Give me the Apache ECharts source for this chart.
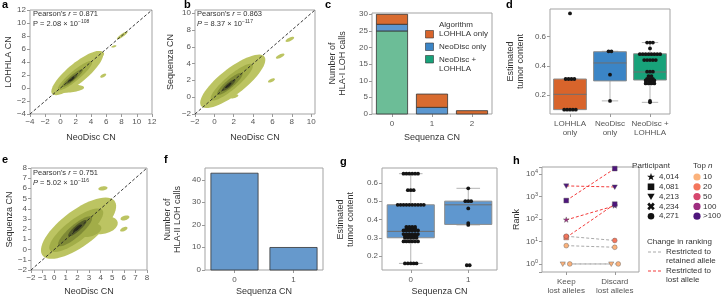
<!DOCTYPE html>
<html>
<head>
<meta charset="utf-8">
<script src="https://cdn.jsdelivr.net/npm/echarts@6/dist/echarts.min.js"></script>
<style>
  html, body { margin: 0; padding: 0; background: #fff; }
  #wrap { position: relative; width: 721px; height: 298px; }
  #chart { width: 721px; height: 298px; }
  .ytick {
    position: absolute; font: 8px 'Liberation Sans', Arial, sans-serif; color: #555;
    line-height: 10px; height: 10px; white-space: nowrap; text-align: right;
  }
</style>
</head>
<body>
<div id="wrap"><div id="chart"></div></div>
<script>
// ---------- data ----------
// density blobs: [centerX, centerY, semiAxisA, semiAxisB, angleDeg, level]
const aRange = [-4, 12]
const aTicks = [-4, -2, 0, 2, 4, 6, 8, 10, 12]
const aBlobs = [
  [2.2, 2.3, 4.6, 1.4, 45, 0], [1.0, -0.1, 2.1, 0.6, 5, 0], [4.6, 4.9, 1.2, 0.6, 25, 0],
  [8.1, 8.1, 0.9, 0.22, 40, 0], [7.0, 6.4, 0.35, 0.15, 20, 0], [5.6, 1.9, 0.45, 0.22, 35, 0],
  [1.9, 1.9, 3.1, 0.7, 45, 1], [1.6, 1.55, 1.9, 0.4, 45, 2],
  [1.5, 1.4, 1.0, 0.24, 45, 3], [1.5, 1.35, 0.45, 0.12, 45, 4],
]
const bRange = [-2, 10.4]
const bTicks = [-2, 0, 2, 4, 6, 8, 10]
const bBlobs = [
  [1.9, 1.9, 4.4, 1.45, 43, 0], [2.05, 0.1, 0.45, 0.2, 20, 0],
  [5.9, 2.0, 0.4, 0.18, 30, 0], [6.8, 4.9, 0.5, 0.2, 30, 0], [7.8, 6.9, 0.5, 0.2, 30, 0],
  [1.8, 1.8, 3.0, 0.75, 45, 1], [1.6, 1.6, 1.8, 0.45, 45, 2],
  [1.5, 1.45, 0.95, 0.25, 45, 3], [1.45, 1.4, 0.42, 0.12, 45, 4],
]
const eRange = [-2, 8]
const eTicks = [-2, -1, 0, 1, 2, 3, 4, 5, 6, 7, 8]
const eBlobs = [
  [2.1, 2.1, 4.1, 1.65, 42, 0], [4.2, 2.4, 1.3, 0.85, 15, 0],
  [4.2, 6.0, 0.4, 0.2, 10, 0], [6.1, 3.1, 0.4, 0.22, 20, 0], [6.0, 2.0, 0.35, 0.18, 30, 0],
  [1.9, 1.9, 3.0, 1.0, 42, 1], [3.1, 1.9, 1.0, 0.6, 20, 1],
  [1.8, 1.8, 2.0, 0.55, 45, 2], [2.0, 2.1, 1.1, 0.28, 45, 3], [2.0, 2.1, 0.5, 0.14, 45, 4],
]

const cCategories = ['0', '1', '2']
const cRange = [0, 30.4]
const cTicks = [0, 5, 10, 15, 20, 25, 30]
const cBoth = [25, 0, 0]
const cNeoDiscOnly = [2, 2, 0]
const cLohhlaOnly = [3, 4, 1]

const dCategories = ['LOHHLA\nonly', 'NeoDisc\nonly', 'NeoDisc +\nLOHHLA']
const dTicks = [0.2, 0.4, 0.6]
// [min, q1, median, q3, max]
const dBoxStats = [
  [0.10, 0.10, 0.205, 0.31, 0.31],
  [0.16, 0.297, 0.42, 0.497, 0.50],
  [0.15, 0.303, 0.358, 0.483, 0.56],
]
const dPoints = [
  [0.76, 0.31, 0.31, 0.31, 0.31, 0.10, 0.10, 0.10, 0.10, 0.10],
  [0.50, 0.50, 0.34, 0.16],
  [0.56, 0.56, 0.56, 0.52, 0.48, 0.48, 0.48, 0.48, 0.48, 0.48, 0.48, 0.48,
   0.44, 0.44, 0.44, 0.44, 0.44, 0.36, 0.36, 0.36, 0.33, 0.33, 0.31, 0.31, 0.31,
   0.30, 0.30, 0.30, 0.30, 0.28, 0.28, 0.28, 0.28, 0.16, 0.15],
]

const fCategories = ['0', '1']
const fRange = [0, 45.3]
const fTicks = [0, 10, 20, 30, 40]
const fCalls = [43, 10]

const gCategories = ['0', '1']
const gTicks = [0.2, 0.3, 0.4, 0.5, 0.6]
const gBoxStats = [
  [0.16, 0.30, 0.335, 0.48, 0.65],
  [0.37, 0.373, 0.48, 0.50, 0.57],
]
const gPoints = [
  [0.65, 0.65, 0.65, 0.65, 0.65, 0.65, 0.56, 0.56, 0.56,
   0.48, 0.48, 0.48, 0.48, 0.48, 0.48, 0.48, 0.48, 0.48, 0.48,
   0.36, 0.36, 0.36, 0.36, 0.35, 0.35, 0.35, 0.35,
   0.34, 0.34, 0.34, 0.34, 0.34, 0.34, 0.32, 0.32, 0.32, 0.32, 0.32, 0.32,
   0.31, 0.31, 0.31, 0.31, 0.31, 0.30, 0.30, 0.30, 0.30, 0.30,
   0.28, 0.28, 0.28, 0.28, 0.28, 0.28, 0.16, 0.16, 0.16, 0.16, 0.16],
  [0.57, 0.50, 0.50, 0.50, 0.46, 0.38, 0.37, 0.15, 0.15],
]

const hCategories = ['Keep\nlost alleles', 'Discard\nlost alleles']
const hParticipants = ['4,014', '4,081', '4,213', '4,234', '4,271']
const hTopN = ['10', '20', '50', '100', '>100']
const hTopNLimits = [10, 20, 50, 100, Infinity]
const hRecordParticipant = ['4,213', '4,081', '4,014', '4,081', '4,271', '4,271', '4,213', '4,271']
const hKeep = [2900, 650, 90, 15, 17, 6.5, 1, 1]
const hDiscard = [2600, 17000, 380, 450, 11, 5.5, 1, 1]
const hChange = ['lost', 'lost', 'lost', 'lost', 'retained', 'retained', 'retained', 'retained']

// ---------- styles ----------
const FONT = "'Liberation Sans', Arial, sans-serif"
const densityColors = ['#bcc462', '#a2ad48', '#7f8a36', '#535b28', '#2c2e1b']
const cColors = ['#6cbd97', '#5b97d0', '#d86b2f']
const dColors = ['#d8642b', '#3b85c6', '#18a27a']
const gColors = ['#5f97cf', '#5f97cf']
const topNColors = ['#fbb27c', '#f4765c', '#d6476e', '#9e2d80', '#4e167c']
const markerKinds = ['star', 'square', 'tri', 'cross', 'circle']

const chart = echarts.init(document.getElementById('chart'))

const grids = [
  { left: 30, top: 10, width: 122, height: 104 },
  { left: 195, top: 10, width: 120, height: 104 },
  { left: 372, top: 13, width: 120, height: 101 },
  { left: 550, top: 9, width: 120, height: 105 },
  { left: 31, top: 168, width: 116, height: 103 },
  { left: 205, top: 168, width: 118, height: 103 },
  { left: 382, top: 168, width: 115, height: 103 },
  { left: 542, top: 167, width: 97, height: 105 },
].map((g) => Object.assign({ show: true, borderColor: '#a3a3a3', borderWidth: 1 }, g))

const noLine = { show: false, onZero: false }
const tick = { show: true, length: 3, lineStyle: { color: '#999', width: 1 } }
const label = { color: '#555', fontSize: 8, fontFamily: FONT }
const nameText = { color: '#333', fontSize: 9, fontFamily: FONT, lineHeight: 10 }
const minus = (v) => String(v).replace('-', '\u2212')

function valueAxis(gi, range, ticks, name, gap) {
  return {
    type: 'value', gridIndex: gi, min: range[0], max: range[1],
    axisLine: noLine, splitLine: { show: false },
    axisTick: Object.assign({ customValues: ticks }, tick),
    axisLabel: Object.assign({ customValues: ticks, margin: 4, formatter: minus }, label),
    name, nameLocation: 'middle', nameGap: gap, nameTextStyle: nameText,
  }
}
// y value axis whose numbers are placed next to it after layout (see placeYLabels)
function yTickAxis(gi, range, ticks) {
  return {
    type: 'value', gridIndex: gi, min: range[0], max: range[1],
    axisLine: noLine, splitLine: { show: false },
    axisTick: Object.assign({ customValues: ticks }, tick),
    axisLabel: { show: false },
  }
}
function catAxis(gi, cats, name, gap) {
  return {
    type: 'category', gridIndex: gi, data: cats, boundaryGap: true,
    axisLine: noLine, splitLine: { show: false },
    axisTick: Object.assign({ alignWithLabel: true }, tick),
    axisLabel: Object.assign({ margin: 5, lineHeight: 9, interval: 0 }, label),
    name, nameLocation: 'middle', nameGap: gap, nameTextStyle: nameText,
  }
}

const xAxis = [
  valueAxis(0, aRange, aTicks, 'NeoDisc CN', 19),
  valueAxis(1, bRange, bTicks, 'NeoDisc CN', 19),
  catAxis(2, cCategories, 'Sequenza CN', 19),
  catAxis(3, dCategories, '', 0),
  valueAxis(4, eRange, eTicks, 'NeoDisc CN', 17),
  catAxis(5, fCategories, 'Sequenza CN', 17),
  catAxis(6, gCategories, 'Sequenza CN', 17),
  catAxis(7, hCategories, '', 0),
]
const yAxis = [
  yTickAxis(0, aRange, aTicks),
  yTickAxis(1, bRange, bTicks),
  yTickAxis(2, cRange, cTicks),
  valueAxis(3, [0.07, 0.79], dTicks),
  yTickAxis(4, eRange, eTicks),
  yTickAxis(5, fRange, fTicks),
  valueAxis(6, [0.124, 0.681], gTicks),
  {
    type: 'log', logBase: 10, gridIndex: 7, min: 0.44, max: 20000,
    axisLine: noLine, splitLine: { show: false }, minorTick: { show: false },
    axisTick: tick,
    axisLabel: Object.assign({
      margin: 4,
      formatter: (v) => {
        const e = Math.log10(v)
        if (Math.abs(e - Math.round(e)) > 1e-6) return ''
        return '10{s|' + Math.round(e) + '}'
      },
      rich: { s: { fontSize: 5.5, color: '#555', fontFamily: FONT, verticalAlign: 'top', padding: [0, 0, 4, 0] } },
    }, label),
  },
]

// ---------- renderers ----------
function ellipseItem(params, api) {
  const cx = api.value(0), cy = api.value(1), a = api.value(2), b = api.value(3)
  const ang = (api.value(4) * Math.PI) / 180
  const pts = []
  for (let k = 0; k < 60; k++) {
    const t = (k / 60) * Math.PI * 2
    const u = a * Math.cos(t), v = b * Math.sin(t)
    pts.push(api.coord([cx + u * Math.cos(ang) - v * Math.sin(ang), cy + u * Math.sin(ang) + v * Math.cos(ang)]))
  }
  return { type: 'polygon', shape: { points: pts }, style: { fill: densityColors[api.value(5)] } }
}

function diagonalItem(params, api) {
  const p0 = api.coord([api.value(0), api.value(0)]), p1 = api.coord([api.value(1), api.value(1)])
  return {
    type: 'line', shape: { x1: p0[0], y1: p0[1], x2: p1[0], y2: p1[1] },
    style: { stroke: '#222', lineWidth: 0.9, lineDash: [3, 2] },
  }
}

function barItem(colors) {
  return function (params, api) {
    const i = api.value(0), lo = api.value(1), hi = api.value(2)
    if (hi <= lo) return null
    const p0 = api.coord([i, lo]), p1 = api.coord([i, hi])
    const w = api.size([1, 0])[0] * api.value(4)
    return {
      type: 'rect', shape: { x: p0[0] - w / 2, y: p1[1], width: w, height: p0[1] - p1[1] },
      style: { fill: colors[api.value(3)], stroke: '#333', lineWidth: 0.8 },
    }
  }
}
// stacked segments [category, bottom, top, layer, widthShare]
function stackRows(layers, share) {
  const rows = []
  const base = layers[0].map(() => 0)
  layers.forEach((vals, li) => {
    vals.forEach((v, ci) => {
      rows.push([ci, base[ci], base[ci] + v, li, share])
      base[ci] += v
    })
  })
  return rows
}

function boxItem(colors) {
  return function (params, api) {
    const i = api.value(0)
    const lo = api.coord([i, api.value(1)]), q1 = api.coord([i, api.value(2)])
    const md = api.coord([i, api.value(3)]), q3 = api.coord([i, api.value(4)])
    const hi = api.coord([i, api.value(5)])
    const w = api.size([1, 0])[0] * 0.82
    const x = lo[0]
    const wh = { stroke: '#b5b5b5', lineWidth: 1 }
    return {
      type: 'group',
      children: [
        { type: 'line', shape: { x1: x, y1: q3[1], x2: x, y2: hi[1] }, style: wh },
        { type: 'line', shape: { x1: x, y1: q1[1], x2: x, y2: lo[1] }, style: wh },
        { type: 'line', shape: { x1: x - w / 4, y1: hi[1], x2: x + w / 4, y2: hi[1] }, style: wh },
        { type: 'line', shape: { x1: x - w / 4, y1: lo[1], x2: x + w / 4, y2: lo[1] }, style: wh },
        { type: 'rect', shape: { x: x - w / 2, y: q3[1], width: w, height: q1[1] - q3[1] },
          style: { fill: colors[i], stroke: '#8c8c8c', lineWidth: 1 } },
        { type: 'line', shape: { x1: x - w / 2, y1: md[1], x2: x + w / 2, y2: md[1] },
          style: { stroke: '#6f6f6f', lineWidth: 1 } },
      ],
    }
  }
}

function swarmRows(lists) {
  const rows = []
  lists.forEach((vals, ci) => {
    const counts = {}, seen = {}
    vals.forEach((v) => (counts[v] = (counts[v] || 0) + 1))
    vals.forEach((v) => {
      const k = seen[v] || 0
      seen[v] = k + 1
      rows.push([ci, v, k - (counts[v] - 1) / 2])
    })
  })
  return rows
}
function dotItem(params, api) {
  const p = api.coord([api.value(0), api.value(1)])
  return { type: 'circle', shape: { cx: p[0] + api.value(2) * 2.9, cy: p[1], r: 1.9 }, style: { fill: '#151515' } }
}

function markerShape(kind, cx, cy, s, style) {
  if (kind === 'circle') return { type: 'circle', shape: { cx, cy, r: s }, style }
  let pts = []
  if (kind === 'square') pts = [[-s, -s], [s, -s], [s, s], [-s, s]]
  else if (kind === 'tri') pts = [[-s * 1.1, -s * 0.85], [s * 1.1, -s * 0.85], [0, s * 1.05]]
  else if (kind === 'star') {
    for (let k = 0; k < 10; k++) {
      const r = k % 2 === 0 ? s * 1.25 : s * 0.5
      const t = -Math.PI / 2 + (k * Math.PI) / 5
      pts.push([r * Math.cos(t), r * Math.sin(t)])
    }
  } else if (kind === 'cross') {
    const L = s * 1.2, w = s * 0.42
    const plus = [[w, -L], [w, -w], [L, -w], [L, w], [w, w], [w, L], [-w, L], [-w, w], [-L, w], [-L, -w], [-w, -w], [-w, -L]]
    const c = Math.SQRT1_2
    pts = plus.map(([x, y]) => [(x - y) * c, (x + y) * c])
  }
  return { type: 'polygon', shape: { points: pts.map(([x, y]) => [cx + x, cy + y]) }, style }
}

function rankColor(r) {
  for (let k = 0; k < hTopNLimits.length; k++) if (r <= hTopNLimits[k]) return topNColors[k]
  return topNColors[topNColors.length - 1]
}
function dodge(vals) {
  const counts = {}, seen = {}
  vals.forEach((v) => (counts[v] = (counts[v] || 0) + 1))
  return vals.map((v) => {
    const k = seen[v] || 0
    seen[v] = k + 1
    return (k - (counts[v] - 1) / 2) * 7
  })
}
const keepDodge = dodge(hKeep)
const discardDodge = dodge(hDiscard)

// ---------- series ----------
const series = []
;[[0, aBlobs, aRange], [1, bBlobs, bRange], [4, eBlobs, eRange]].forEach(([gi, blobs, r]) => {
  series.push({
    type: 'custom', xAxisIndex: gi, yAxisIndex: gi, clip: true, silent: true, z: 1,
    renderItem: ellipseItem, data: blobs.slice().sort((p, q) => p[5] - q[5]),
  })
  series.push({
    type: 'custom', xAxisIndex: gi, yAxisIndex: gi, clip: true, silent: true, z: 3,
    renderItem: diagonalItem, data: [[r[0], r[1]]],
  })
})

series.push({
  type: 'custom', xAxisIndex: 2, yAxisIndex: 2, z: 2, renderItem: barItem(cColors),
  data: stackRows([cBoth, cNeoDiscOnly, cLohhlaOnly], 0.78),
})
series.push({
  type: 'custom', xAxisIndex: 5, yAxisIndex: 5, z: 2, renderItem: barItem(['#6699cc']),
  data: stackRows([fCalls], 0.8),
})

series.push({
  type: 'custom', xAxisIndex: 3, yAxisIndex: 3, renderItem: boxItem(dColors), z: 2,
  data: dBoxStats.map((s, i) => [i].concat(s)),
})
series.push({ type: 'custom', xAxisIndex: 3, yAxisIndex: 3, renderItem: dotItem, z: 4, data: swarmRows(dPoints) })

series.push({
  type: 'custom', xAxisIndex: 6, yAxisIndex: 6, renderItem: boxItem(gColors), z: 2,
  data: gBoxStats.map((s, i) => [i].concat(s)),
})
series.push({ type: 'custom', xAxisIndex: 6, yAxisIndex: 6, renderItem: dotItem, z: 4, data: swarmRows(gPoints) })

series.push({
  type: 'custom', xAxisIndex: 7, yAxisIndex: 7, z: 2,
  data: hKeep.map((v, i) => [0, v, i]),
  renderItem(params, api) {
    const i = api.value(2)
    const p0 = api.coord([0, hKeep[i]]), p1 = api.coord([1, hDiscard[i]])
    return {
      type: 'line',
      shape: { x1: p0[0] + keepDodge[i], y1: p0[1], x2: p1[0] + discardDodge[i], y2: p1[1] },
      style: { stroke: hChange[i] === 'lost' ? '#f23b3b' : '#a8a8a8', lineWidth: 1, lineDash: [3, 2] },
    }
  },
})
series.push({
  type: 'custom', xAxisIndex: 7, yAxisIndex: 7, z: 4,
  data: hKeep.map((v, i) => [0, v, i]).concat(hDiscard.map((v, i) => [1, v, i])),
  renderItem(params, api) {
    const side = api.value(0), r = api.value(1), i = api.value(2)
    const p = api.coord([side, r])
    const dx = side === 0 ? keepDodge[i] : discardDodge[i]
    const kind = markerKinds[hParticipants.indexOf(hRecordParticipant[i])]
    return markerShape(kind, p[0] + dx, p[1], 2.4, { fill: rankColor(r), stroke: '#555', lineWidth: 0.4 })
  },
})

// ---------- annotations ----------
const txt = (x, y, text, o) => ({
  type: 'text', x, y,
  style: Object.assign({ text, fontSize: 8, fontFamily: FONT, fill: '#333', textVerticalAlign: 'middle' }, o || {}),
})
const yTitle = (x, y, text) => ({
  type: 'text', x, y, rotation: Math.PI / 2,
  style: { text, fontSize: 9, lineHeight: 10, fontFamily: FONT, fill: '#333', textAlign: 'center', textVerticalAlign: 'middle' },
})
const letter = (x, y, t) => txt(x, y, t, { fontSize: 11, fontWeight: 'bold', fill: '#000' })
const pearsonRich = {
  i: { fontSize: 7.5, fontStyle: 'italic', fontFamily: FONT, fill: '#333' },
  s: { fontSize: 5, fontFamily: FONT, fill: '#333', verticalAlign: 'top', padding: [0, 0, 3, 0] },
}
const pearson = (x, y, r, pText, exp, italicP) =>
  txt(x, y, "Pearson's {i|r} = " + r + '\n' + (italicP ? '{i|P}' : 'P') + ' = ' + pText + ' \u00d7 10{s|\u2212' + exp + '}',
    { fontSize: 7.5, lineHeight: 10, rich: pearsonRich, textVerticalAlign: 'top' })

const graphic = [
  letter(2, 5, 'a'), letter(184, 5, 'b'), letter(325, 5, 'c'), letter(506, 5, 'd'),
  letter(2, 160, 'e'), letter(164, 160, 'f'), letter(340, 162, 'g'), letter(513, 161, 'h'),
  yTitle(9, 62, 'LOHHLA CN'),
  yTitle(171, 62, 'Sequenza CN'),
  yTitle(338, 63.5, 'Number of\nHLA-I LOH calls'),
  yTitle(515.5, 61.5, 'Estimated\ntumor content'),
  yTitle(10, 219.5, 'Sequenza CN'),
  yTitle(173, 219.5, 'Number of\nHLA-II LOH calls'),
  yTitle(346, 219.5, 'Estimated\ntumor content'),
  yTitle(517, 219.5, 'Rank'),
  pearson(33, 9, '0.871', '2.08', 108, false),
  pearson(197, 9, '0.863', '8.37', 117, true),
  pearson(33, 168, '0.751', '5.02', 116, true),
  // legend of c
  txt(439, 25, 'Algorithm'),
  { type: 'rect', shape: { x: 425.5, y: 30.5, width: 8, height: 7.5 }, style: { fill: dColors[0], stroke: '#333', lineWidth: 0.6 } },
  { type: 'rect', shape: { x: 425.5, y: 43, width: 8, height: 7.5 }, style: { fill: dColors[1], stroke: '#333', lineWidth: 0.6 } },
  { type: 'rect', shape: { x: 425.5, y: 55.5, width: 8, height: 7.5 }, style: { fill: dColors[2], stroke: '#333', lineWidth: 0.6 } },
  txt(439, 34, 'LOHHLA only'), txt(439, 47, 'NeoDisc only'), txt(439, 60, 'NeoDisc +'), txt(439, 69, 'LOHHLA'),
  // legend of h
  txt(651, 166, 'Participant', { textAlign: 'center' }),
  txt(693, 166, 'Top {i|n}', { rich: { i: { fontSize: 8, fontStyle: 'italic', fontFamily: FONT, fill: '#333' } } }),
  txt(647, 242, 'Change in ranking'),
  { type: 'line', shape: { x1: 648, y1: 252, x2: 661, y2: 252 }, style: { stroke: '#a8a8a8', lineWidth: 1, lineDash: [3, 2] } },
  { type: 'line', shape: { x1: 648, y1: 271, x2: 661, y2: 271 }, style: { stroke: '#f23b3b', lineWidth: 1, lineDash: [3, 2] } },
  txt(666, 252, 'Restricted to'), txt(666, 261, 'retained allele'),
  txt(666, 271, 'Restricted to'), txt(666, 280, 'lost allele'),
]
hParticipants.forEach((p, k) => {
  const y = 177 + k * 9.8
  graphic.push(markerShape(markerKinds[k], 651, y, 3.3, { fill: '#111' }))
  graphic.push(txt(659, y, p))
})
hTopN.forEach((t, k) => {
  const y = 177 + k * 9.8
  graphic.push({ type: 'circle', shape: { cx: 697, cy: y, r: 3.6 }, style: { fill: topNColors[k] } })
  graphic.push(txt(703, y, t))
})

chart.setOption({
  animation: false,
  textStyle: { fontFamily: FONT },
  grid: grids,
  xAxis,
  yAxis,
  series,
  graphic,
})

// y tick numbers, positioned from the chart's own scales
function placeYLabels() {
  const wrap = document.getElementById('wrap')
  wrap.querySelectorAll('.ytick').forEach((n) => n.remove())
  const specs = [
    [0, aTicks, aRange[0], false], [1, bTicks, bRange[0], false], [4, eTicks, eRange[0], false],
    [2, cTicks, 0, true], [5, fTicks, 0, true],
  ]
  specs.forEach(([gi, ticks, x0, isCat]) => {
    ticks.forEach((t) => {
      const p = chart.convertToPixel({ gridIndex: gi }, [x0, t])
      let x = p[0]
      if (isCat) {
        const q = chart.convertToPixel({ gridIndex: gi }, [1, t])
        x -= (q[0] - p[0]) / 2
      }
      const el = document.createElement('div')
      el.className = 'ytick'
      el.textContent = minus(t)
      el.style.right = (721 - (x - 4)) + 'px'
      el.style.top = (p[1] - 5) + 'px'
      wrap.appendChild(el)
    })
  })
}
placeYLabels()
</script>
</body>
</html>
